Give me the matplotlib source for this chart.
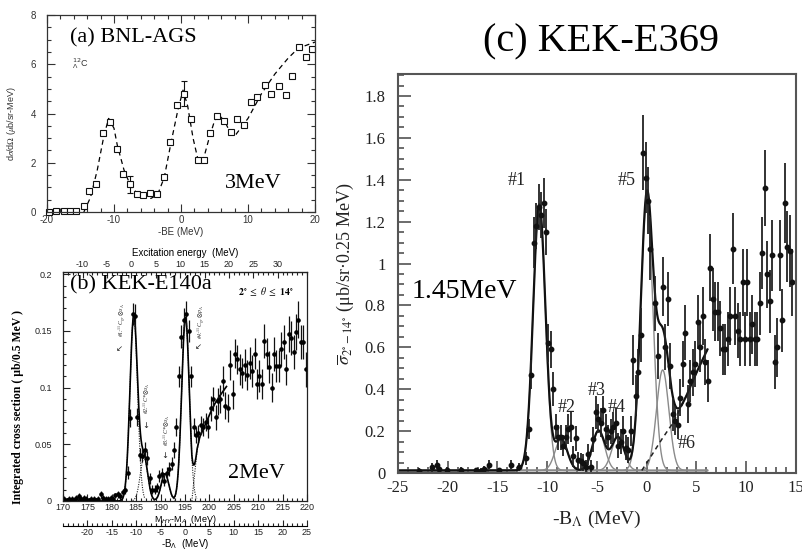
import numpy as np
import matplotlib
matplotlib.use("Agg")
import matplotlib.pyplot as plt
from matplotlib.ticker import MultipleLocator, FixedLocator, FormatStrFormatter

plt.rcParams['mathtext.fontset'] = 'stix'
plt.rcParams['axes.unicode_minus'] = False

SERIF = ['Liberation Serif', 'DejaVu Serif']
SANS = ['Liberation Sans', 'DejaVu Sans']

## ========================================================
## (a) BNL-AGS : -BE (MeV) vs dsigma/dOmega
## ========================================================
be_a = [-19.7, -18.6, -17.5, -16.6, -15.6, -14.5, -13.7, -12.7, -11.6, -10.55,
        -9.6, -8.6, -7.6, -6.6, -5.6, -4.6, -3.6, -2.6, -1.6, -0.57,
        0.42, 1.5, 2.5, 3.5, 4.4, 5.4, 6.4, 7.4, 8.4, 9.4,
        10.4, 11.4, 12.5, 13.5, 14.6, 15.6, 16.6, 17.6, 18.6, 19.6]
sig_a = [0.0, 0.05, 0.05, 0.05, 0.03, 0.26, 0.87, 1.13, 3.2, 3.67,
         2.55, 1.53, 1.13, 0.72, 0.69, 0.76, 0.72, 1.41, 2.86, 4.36,
         4.8, 3.77, 2.11, 2.11, 3.22, 3.9, 3.71, 3.24, 3.78, 3.54,
         4.48, 4.69, 5.16, 4.8, 5.12, 4.77, 5.54, 6.72, 6.31, 6.63]
err_a = [0, 0, 0, 0, 0, 0, 0, 0, 0, 0,
         0, 0, 0.35, 0, 0, 0, 0, 0, 0, 0,
         0.5, 0, 0, 0, 0, 0, 0, 0, 0, 0,
         0, 0, 0, 0, 0, 0, 0, 0, 0, 0]
# dashed fit curve
fit_x_a = [-14.5, -13.5, -12.5, -11.5, -10.8, -10.0, -9.5, -8.5, -7.5, -6.5,
           -5.5, -4.5, -3.5, -2.5, -1.5, -0.5, 0.3, 1.0, 1.8, 2.6,
           3.3, 4.2, 5.0, 5.6, 6.5, 7.3, 7.8, 8.2, 10.0, 12.0,
           14.0, 16.0, 17.5, 19.0, 20.0]
fit_y_a = [0.0, 0.6, 1.7, 3.1, 3.8, 3.4, 2.7, 1.7, 1.05, 0.75,
           0.62, 0.55, 0.7, 1.4, 2.8, 4.1, 4.95, 4.3, 3.0, 2.05,
           2.1, 3.0, 3.7, 3.95, 3.7, 3.25, 3.1, 3.15, 3.8, 4.8,
           5.6, 6.25, 6.65, 6.8, 6.9]

## ========================================================
## (b) KEK-E140a : M_HY - M_A (MeV), 0.5 MeV bins
## ========================================================
m_b = [170.25, 170.75, 171.25, 171.75, 172.25, 172.75, 173.25, 173.75, 174.25, 174.75,
       175.25, 175.75, 176.25, 176.75, 177.25, 177.75, 178.25, 178.75, 179.25, 179.75,
       180.25, 180.75, 181.25, 181.75, 182.25, 182.75, 183.25, 183.75, 184.25, 184.75,
       185.25, 185.75, 186.25, 186.75, 187.25, 187.75, 188.25, 188.75, 189.25, 189.75,
       190.25, 190.75, 191.25, 191.75, 192.25, 192.75, 193.25, 193.75, 194.25, 194.75,
       195.25, 195.75, 196.25, 196.75, 197.25, 197.75, 198.25, 198.75, 199.25, 199.75,
       200.25, 200.75, 201.25, 201.75, 202.25, 202.75, 203.25, 203.75, 204.25, 204.75,
       205.25, 205.75, 206.25, 206.75, 207.25, 207.75, 208.25, 208.75, 209.25, 209.75,
       210.25, 210.75, 211.25, 211.75, 212.25, 212.75, 213.25, 213.75, 214.25, 214.75,
       215.25, 215.75, 216.25, 216.75, 217.25, 217.75, 218.25, 218.75, 219.25, 219.75]
xs_b = [0.002, 0.001, 0.002, 0.002, 0.001, 0.003, 0.004, 0.002, 0.003, 0.002,
        0.001, 0.002, 0.002, 0.001, 0.002, 0.006, 0.003, 0.002, 0.002, 0.003,
        0.002, 0.005, 0.006, 0.004, 0.008, 0.010, 0.025, 0.073, 0.165, 0.163,
        0.074, 0.041, 0.040, 0.045, 0.038, 0.020, 0.010, 0.010, 0.012, 0.022,
        0.024, 0.018, 0.025, 0.028, 0.033, 0.045, 0.065, 0.110, 0.145, 0.160,
        0.165, 0.150, 0.110, 0.065, 0.058, 0.060, 0.067, 0.065, 0.070, 0.065,
        0.082, 0.090, 0.074, 0.088, 0.090, 0.106, 0.084, 0.082, 0.120, 0.094,
        0.130, 0.125, 0.116, 0.113, 0.120, 0.111, 0.122, 0.115, 0.130, 0.103,
        0.110, 0.103, 0.141, 0.130, 0.118, 0.100, 0.130, 0.119, 0.119, 0.134,
        0.140, 0.116, 0.147, 0.144, 0.131, 0.149, 0.160, 0.140, 0.140, 0.116]
err_b = [0.002, 0.002, 0.002, 0.002, 0.002, 0.002, 0.003, 0.002, 0.002, 0.002,
         0.002, 0.002, 0.002, 0.002, 0.002, 0.003, 0.002, 0.002, 0.002, 0.002,
         0.002, 0.002, 0.003, 0.003, 0.003, 0.004, 0.006, 0.008, 0.010, 0.011,
         0.008, 0.006, 0.006, 0.007, 0.006, 0.005, 0.004, 0.004, 0.004, 0.005,
         0.005, 0.005, 0.005, 0.006, 0.006, 0.007, 0.008, 0.009, 0.010, 0.010,
         0.011, 0.010, 0.009, 0.008, 0.007, 0.007, 0.008, 0.008, 0.008, 0.009,
         0.011, 0.011, 0.011, 0.012, 0.012, 0.013, 0.012, 0.012, 0.013, 0.013,
         0.013, 0.013, 0.014, 0.013, 0.014, 0.013, 0.014, 0.014, 0.014, 0.013,
         0.014, 0.013, 0.015, 0.014, 0.014, 0.013, 0.015, 0.014, 0.014, 0.015,
         0.015, 0.014, 0.016, 0.015, 0.015, 0.016, 0.016, 0.015, 0.015, 0.015]
# fitted peaks (#1 .. #4) and rising background
peak_m_b = [184.5, 186.6, 190.9, 195.1]
peak_h_b = [0.163, 0.038, 0.024, 0.162]
peak_w_b = 0.78
bg_m_b = [196.4, 197.0, 197.5, 198.0, 199.0, 200.0, 201.0, 202.0, 203.0, 204.0]
bg_y_b = [0.0, 0.025, 0.045, 0.056, 0.066, 0.076, 0.085, 0.092, 0.098, 0.104]
exc_ticks_b = [-10, -5, 0, 5, 10, 15, 20, 25, 30]
bl_ticks_b = [-20, -15, -10, -5, 0, 5, 10, 15, 20, 25]

## ========================================================
## (c) KEK-E369 : -B_Lambda (MeV), 0.25 MeV bins
## ========================================================
bl_c = [-22.875, -21.625, -21.125, -20.875, -20.125, -18.625, -17.125, -16.625, -16.375, -15.875,
        -14.875, -13.625, -12.875, -12.125, -11.875, -11.625, -11.375, -11.125, -10.875, -10.625,
        -10.375, -10.125, -9.875, -9.625, -9.375, -9.125, -8.875, -8.625, -8.375, -8.125,
        -7.875, -7.625, -7.375, -7.125, -6.875, -6.625, -6.375, -6.125, -5.875, -5.625,
        -5.375, -5.125, -4.875, -4.625, -4.375, -4.125, -3.875, -3.625, -3.375, -3.125,
        -2.875, -2.625, -2.375, -2.125, -1.875, -1.625, -1.375, -1.125, -0.875, -0.625,
        -0.375, -0.125, 0.125, 0.375, 0.875, 1.125, 1.625, 1.875, 2.125, 2.375,
        2.625, 2.875, 3.125, 3.375, 3.625, 3.875, 4.125, 4.375, 4.625, 4.875,
        5.125, 5.375, 5.625, 5.875, 6.125, 6.375, 6.625, 6.875, 7.125, 7.375,
        7.625, 7.875, 8.125, 8.375, 8.625, 8.875, 9.125, 9.375, 9.625, 9.875,
        10.125, 10.375, 10.625, 10.875, 11.125, 11.375, 11.625, 11.875, 12.125, 12.375,
        12.625, 12.875, 13.125, 13.375, 13.625, 13.875, 14.125, 14.375, 14.625]
xs_c = [0.010, 0.027, 0.040, 0.020, 0.015, 0.015, 0.012, 0.010, 0.020, 0.040,
        0.012, 0.040, 0.030, 0.070, 0.21, 0.47, 1.10, 1.18, 1.27, 1.23,
        1.29, 1.15, 0.62, 0.59, 0.40, 0.22, 0.17, 0.17, 0.13, 0.17,
        0.21, 0.22, 0.08, 0.165, 0.06, 0.055, 0.05, 0.03, 0.09, 0.03,
        0.16, 0.29, 0.26, 0.24, 0.30, 0.21, 0.17, 0.20, 0.22, 0.24,
        0.13, 0.15, 0.20, 0.12, 0.11, 0.20, 0.54, 0.37, 0.48, 0.66,
        1.53, 1.41, 1.30, 1.07, 0.81, 0.56, 0.89, 0.60, 0.83, 0.51,
        0.28, 0.25, 0.23, 0.36, 0.52, 0.67, 0.33, 0.44, 0.48, 0.52,
        0.72, 0.60, 0.75, 0.53, 0.44, 0.98, 0.83, 0.77, 0.77, 0.69,
        0.59, 0.59, 0.64, 0.75, 1.07, 0.75, 0.68, 0.64, 0.91, 0.64,
        0.91, 0.64, 0.71, 0.64, 0.64, 0.81, 1.05, 1.36, 0.95, 0.82,
        1.04, 0.53, 0.60, 1.04, 0.73, 1.29, 1.08, 1.06, 0.91]
err_c = [0.015, 0.02, 0.02, 0.015, 0.012, 0.012, 0.012, 0.012, 0.015, 0.02,
         0.012, 0.02, 0.02, 0.03, 0.05, 0.07, 0.12, 0.11, 0.11, 0.11,
         0.12, 0.11, 0.09, 0.09, 0.08, 0.06, 0.06, 0.06, 0.05, 0.06,
         0.07, 0.07, 0.05, 0.06, 0.04, 0.04, 0.04, 0.03, 0.05, 0.03,
         0.06, 0.08, 0.07, 0.07, 0.07, 0.07, 0.06, 0.06, 0.07, 0.07,
         0.06, 0.06, 0.07, 0.06, 0.06, 0.07, 0.12, 0.10, 0.11, 0.13,
         0.18, 0.17, 0.16, 0.15, 0.13, 0.11, 0.14, 0.11, 0.13, 0.11,
         0.08, 0.07, 0.07, 0.09, 0.11, 0.13, 0.09, 0.10, 0.11, 0.11,
         0.13, 0.12, 0.14, 0.11, 0.10, 0.16, 0.15, 0.14, 0.14, 0.13,
         0.12, 0.12, 0.13, 0.14, 0.17, 0.14, 0.13, 0.13, 0.16, 0.13,
         0.16, 0.13, 0.14, 0.13, 0.13, 0.15, 0.17, 0.18, 0.16, 0.15,
         0.17, 0.13, 0.14, 0.17, 0.15, 0.19, 0.17, 0.17, 0.16]
# fitted peaks (#1 .. #6) and background
peak_x_c = [-10.8, -8.6, -4.85, -2.9, 0.0, 1.6]
peak_h_c = [1.27, 0.15, 0.19, 0.16, 1.28, 0.48]
peak_w_c = 0.62
base_c = 0.012
bg_x_c = [-0.5, 0.5, 1.5, 2.5, 3.3, 4.0, 5.0, 6.1]
bg_y_c = [0.012, 0.085, 0.16, 0.23, 0.30, 0.37, 0.48, 0.59]


def gauss(x, c, h, w):
    return h * np.exp(-0.5 * ((x - c) / w) ** 2)


fig = plt.figure(figsize=(8.03, 5.5), dpi=100)

## ---------------- panel (a) ----------------
ax_a = fig.add_axes([47 / 803, 1 - 212 / 550, 268 / 803, 197 / 550])
ax_a.set_xlim(-20, 20)
ax_a.set_ylim(0, 8)
ax_a.plot(fit_x_a, fit_y_a, color='k', lw=0.9, ls=(0, (4, 3)))
ax_a.errorbar(be_a, sig_a, yerr=err_a, fmt='s', ms=4, mfc='white', mec='#111',
              mew=0.8, ecolor='#111', elinewidth=0.8, capsize=2, clip_on=False)
ax_a.xaxis.set_major_locator(MultipleLocator(10))
ax_a.xaxis.set_minor_locator(MultipleLocator(2))
ax_a.yaxis.set_major_locator(MultipleLocator(2))
ax_a.yaxis.set_minor_locator(MultipleLocator(0.5))
ax_a.tick_params(which='both', direction='in', top=True, right=True,
                 colors='#333', labelsize=7, width=0.8)
ax_a.tick_params(which='major', length=6, pad=2.5)
ax_a.tick_params(axis='y', which='major', pad=8)
ax_a.tick_params(which='minor', length=3)
for lab in ax_a.get_xticklabels() + ax_a.get_yticklabels():
    lab.set_family(SANS)
for s in ax_a.spines.values():
    s.set_color('#333')
    s.set_linewidth(0.9)
ax_a.set_xlabel("-BE (MeV)", fontsize=7, family=SANS, color='#333', labelpad=1)
ax_a.set_ylabel(r"d$\sigma$/d$\Omega$ ($\mu$b/sr-MeV)", fontsize=6.5, family=SANS,
                color='#333')
ax_a.yaxis.set_label_coords(-0.11, 0.45)
ax_a.text(0.086, 0.883, "(a) BNL-AGS", transform=ax_a.transAxes, fontsize=16,
          family=SERIF, va='center')
ax_a.text(0.093, 0.756, r"${}^{12}_{\Lambda}$C", transform=ax_a.transAxes, fontsize=6.5,
          family=SANS, math_fontfamily='dejavusans', va='center', color='#333')
ax_a.text(0.664, 0.147, "3MeV", transform=ax_a.transAxes, fontsize=16,
          family=SERIF, va='center')

## ---------------- panel (b) ----------------
ax_b = fig.add_axes([63 / 803, 1 - 501 / 550, 244 / 803, 229 / 550])
ax_b.set_xlim(170, 220)
ax_b.set_ylim(0, 0.202)

# 피팅 곡선 (각 성분 + 합)
grid_b = np.linspace(170, 203.5, 700)
bg_b = np.interp(grid_b, bg_m_b, bg_y_b, left=0.0)
total_b = bg_b.copy()
for c, h in zip(peak_m_b, peak_h_b):
    total_b += gauss(grid_b, c, h, peak_w_b)
    seg = np.linspace(c - 3 * peak_w_b, c + 3 * peak_w_b, 80)
    ax_b.plot(seg, gauss(seg, c, h, peak_w_b), color='#222', lw=0.8, ls=(0, (1, 1.2)))
seg_bg = np.linspace(bg_m_b[0], 203.5, 80)
ax_b.plot(seg_bg, np.interp(seg_bg, bg_m_b, bg_y_b), color='#222', lw=0.8, ls=(0, (1, 1.2)))
ax_b.plot(grid_b, total_b, color='k', lw=1.2)
ax_b.errorbar(m_b, xs_b, yerr=err_b, fmt='o', ms=2.3, color='k', ecolor='#111',
              elinewidth=0.9, capsize=0)

ax_b.xaxis.set_major_locator(MultipleLocator(5))
ax_b.xaxis.set_minor_locator(MultipleLocator(1))
ax_b.yaxis.set_major_locator(MultipleLocator(0.05))
ax_b.yaxis.set_minor_locator(MultipleLocator(0.01))
ax_b.yaxis.set_major_formatter(FormatStrFormatter('%g'))
ax_b.tick_params(which='both', direction='in', colors='#222', labelsize=6.5, width=0.8)
ax_b.tick_params(which='major', length=5, pad=1.5)
ax_b.tick_params(axis='y', which='major', pad=8)
ax_b.tick_params(which='minor', length=2.5)
for lab in ax_b.get_xticklabels() + ax_b.get_yticklabels():
    lab.set_family(SANS)
for s in ax_b.spines.values():
    s.set_color('#222')
    s.set_linewidth(0.9)
ax_b.set_xlabel(r"M$_{HY}$-M$_{A}$  (MeV)", fontsize=6.5, family=SANS,
                math_fontfamily='dejavusans', labelpad=0.5)
ax_b.set_ylabel("Integrated cross section ( μb/0.5 MeV )", fontsize=8.5, family=SERIF,
                fontweight='bold')
ax_b.yaxis.set_label_coords(-0.16, 0.41)

top_b = ax_b.secondary_xaxis('top', functions=(lambda m: m - 184.0, lambda e: e + 184.0))
top_b.xaxis.set_major_locator(FixedLocator(exc_ticks_b))
top_b.xaxis.set_minor_locator(MultipleLocator(1))
top_b.tick_params(which='both', direction='in', labelsize=6.5, colors='#222', width=0.8)
top_b.tick_params(which='major', length=4, pad=2)
top_b.tick_params(which='minor', length=2)
top_b.set_xlabel("Excitation energy  (MeV)", fontsize=7, family=SANS, labelpad=3)
for lab in top_b.get_xticklabels():
    lab.set_family(SANS)

bot_b = ax_b.secondary_xaxis(-0.11, functions=(lambda m: m - 195.0, lambda b: b + 195.0))
bot_b.xaxis.set_major_locator(FixedLocator(bl_ticks_b))
bot_b.xaxis.set_minor_locator(MultipleLocator(1))
bot_b.tick_params(which='both', direction='in', labelsize=6.5, colors='#222', width=0.8)
bot_b.tick_params(which='major', length=4, pad=1.5)
bot_b.tick_params(which='minor', length=2)
bot_b.set_xlabel(r"-B$_{\Lambda}$  (MeV)", fontsize=7, family=SANS,
                 math_fontfamily='dejavusans', labelpad=0)
for lab in bot_b.get_xticklabels():
    lab.set_family(SANS)

ax_b.text(0.029, 0.943, "(b) KEK-E140a", transform=ax_b.transAxes, fontsize=16,
          family=SERIF, va='center')
ax_b.text(0.832, 0.913, r"$\mathbf{2^{\circ}}\ \leq\ \theta\ \leq\ \mathbf{14^{\circ}}$",
          transform=ax_b.transAxes, fontsize=7, ha='center', va='center')
ax_b.text(0.676, 0.122, "2MeV", transform=ax_b.transAxes, fontsize=16,
          family=SERIF, va='center')

lbl_b = [r"#1:$^{11}$C$_{gr}\otimes s_{\Lambda}$", r"#2:$^{11}$C*$\otimes s_{\Lambda}$",
         r"#3:$^{11}$C*$\otimes s_{\Lambda}$", r"#4:$^{11}$C$_{gr}\otimes p_{\Lambda}$"]
lbl_pos_b = [(0.246, 0.79), (0.344, 0.45), (0.426, 0.31), (0.570, 0.785)]
arr_pos_b = [(0.232, 0.665), (0.340, 0.33), (0.418, 0.20), (0.554, 0.675)]
arr_sym_b = ["↙", "↓", "↓", "↙"]
for t, p, a, s in zip(lbl_b, lbl_pos_b, arr_pos_b, arr_sym_b):
    ax_b.text(p[0], p[1], t, transform=ax_b.transAxes, rotation=90, fontsize=4.2,
              family=SERIF, style='italic', ha='center', va='center', color='#222')
    ax_b.text(a[0], a[1], s, transform=ax_b.transAxes, fontsize=6,
              family=['DejaVu Sans'], ha='center', va='center', color='#222')

## ---------------- panel (c) ----------------
ax_c = fig.add_axes([398 / 803, 1 - 473 / 550, 398 / 803, 399 / 550])
ax_c.set_xlim(-25, 15)
ax_c.set_ylim(0, 1.905)

grid_c = np.linspace(-25, 6.1, 1200)
bg_c = np.where(grid_c < bg_x_c[0], base_c, np.interp(grid_c, bg_x_c, bg_y_c))
total_c = bg_c.copy()
for c, h in zip(peak_x_c, peak_h_c):
    comp = gauss(grid_c, c, h, peak_w_c)
    total_c += comp
    ax_c.plot(grid_c, base_c + comp, color='#8a8a8a', lw=1.0)
seg_c = np.linspace(bg_x_c[0], bg_x_c[-1], 100)
ax_c.plot(seg_c, np.interp(seg_c, bg_x_c, bg_y_c), color='#222', lw=1.1, ls=(0, (3, 2.5)))
ax_c.plot(grid_c, total_c, color='#111', lw=1.6)
ax_c.errorbar(bl_c, xs_c, yerr=err_c, fmt='o', ms=3.2, color='#111', ecolor='#222',
              elinewidth=1.3, capsize=0)

ax_c.xaxis.set_major_locator(MultipleLocator(5))
ax_c.xaxis.set_minor_locator(MultipleLocator(1))
ax_c.yaxis.set_major_locator(MultipleLocator(0.2))
ax_c.yaxis.set_minor_locator(MultipleLocator(0.05))
ax_c.yaxis.set_major_formatter(FormatStrFormatter('%g'))
ax_c.xaxis.set_major_formatter(FormatStrFormatter('%g'))
ax_c.tick_params(which='both', direction='in', colors='#444', labelsize=12,
                 labelcolor='#222', width=1.1)
ax_c.tick_params(axis='x', which='major', length=9, pad=5)
ax_c.tick_params(axis='y', which='major', length=9, pad=9)
ax_c.tick_params(which='minor', length=4.5)
for lab in ax_c.get_xticklabels() + ax_c.get_yticklabels():
    lab.set_family(SERIF)
for s in ax_c.spines.values():
    s.set_color('#555')
    s.set_linewidth(1.5)
ax_c.set_xlabel(r"-B$_{\Lambda}$ (MeV)", fontsize=14, family=SERIF, color='#222',
                labelpad=9)
ax_c.set_ylabel(r"$\overline{\sigma}_{2^{\circ}{\rm -}14^{\circ}}$ (μb/sr·0.25 MeV)",
                fontsize=13, family=SERIF, color='#222')
ax_c.yaxis.set_label_coords(-0.105, 0.5)

fig.text(601 / 803, 1 - 42 / 550, "(c) KEK-E369", fontsize=29, family=SERIF,
         ha='center', va='center')
ax_c.text(0.035, 0.454, "1.45MeV", transform=ax_c.transAxes, fontsize=20,
          family=SERIF, va='center')
tag_c = ["#1", "#5", "#2", "#3", "#4", "#6"]
tag_pos_c = [(0.299, 0.732), (0.575, 0.732), (0.425, 0.165), (0.50, 0.208),
             (0.550, 0.165), (0.726, 0.075)]
for t, p in zip(tag_c, tag_pos_c):
    ax_c.text(p[0], p[1], t, transform=ax_c.transAxes, fontsize=13, family=SERIF,
              ha='center', va='center', color='#222')

fig.savefig("out.png", dpi=100)
